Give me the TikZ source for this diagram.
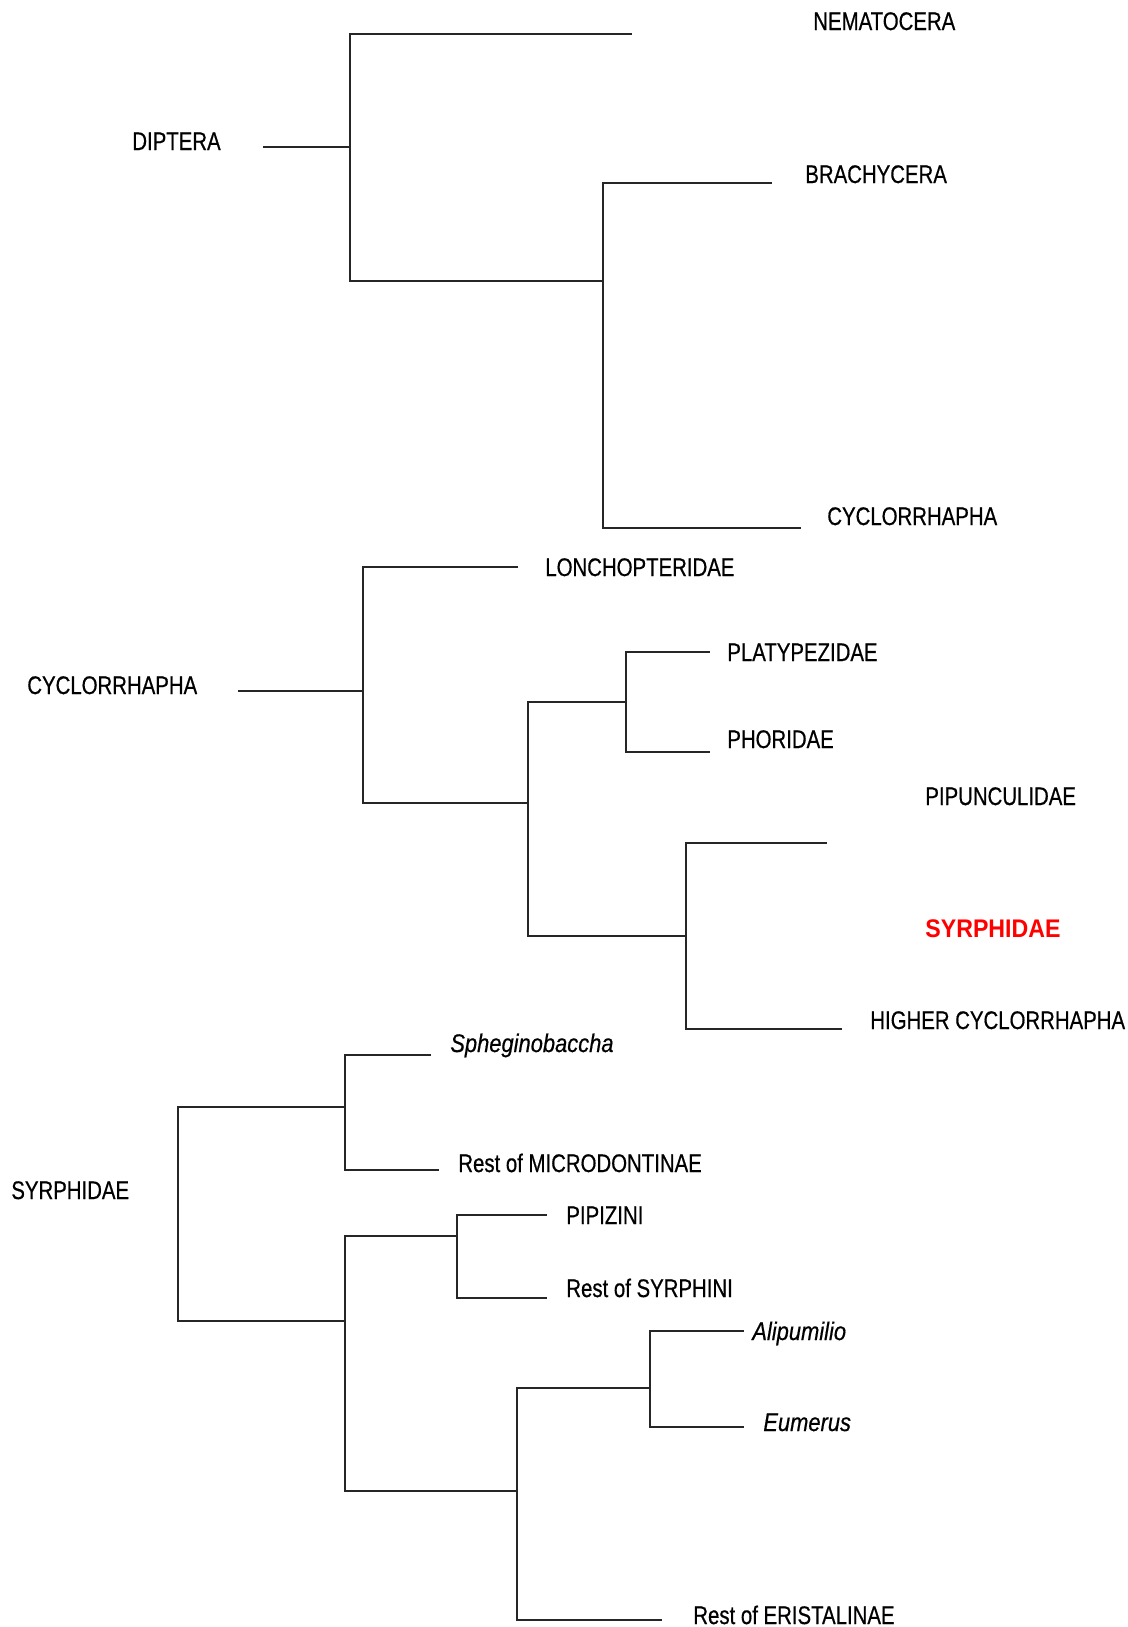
\documentclass[tikz,border=0pt]{standalone}
\usepackage{fontspec}
\setmainfont[FakeStretch=0.8, FakeBold=0.5, ItalicFeatures={FakeStretch=0.86}]{Liberation Sans}
\newfontfamily\redfont[FakeStretch=0.91]{Liberation Sans}
\definecolor{syrred}{RGB}{255,0,0}

\begin{document}
\begin{tikzpicture}[x=0.02cm, y=-0.02cm,
    taxon/.style={anchor=base west, inner sep=0pt, font=\fontsize{14.5}{17}\selectfont},
    genus/.style={taxon, font=\fontsize{14.5}{17}\selectfont\itshape},
    branch/.style={line width=0.9pt, black!85}]
  \useasboundingbox (0,0) rectangle (1127,1627);

  % Diptera
  \node[taxon] (dip) at (132,150) {DIPTERA};
  \node[taxon] (nema) at (813,30) {NEMATOCERA};
  \node[taxon] (brach) at (805,183) {BRACHYCERA};
  \node[taxon] (cyc) at (827,525) {CYCLORRHAPHA};
  \coordinate (dipStub) at (263,147);
  \coordinate (dipN) at (350,147);
  \coordinate (nemaEnd) at (632,34);
  \coordinate (brachN) at (603,281);
  \coordinate (brachEnd) at (772,183);
  \coordinate (cycEnd) at (801,528);
  \draw[branch] (dipStub) -- (dipN);
  \draw[branch] (nemaEnd) -| (dipN) |- (brachN);
  \draw[branch] (brachEnd) -| (brachN) |- (cycEnd);

  % Cyclorrhapha
  \node[taxon] (cycRoot) at (27,694) {CYCLORRHAPHA};
  \node[taxon] (lonch) at (545,576) {LONCHOPTERIDAE};
  \node[taxon] (platy) at (727,661) {PLATYPEZIDAE};
  \node[taxon] (phor) at (727,748) {PHORIDAE};
  \node[taxon] (pipun) at (925,805) {PIPUNCULIDAE};
  \node[taxon, text=syrred, font=\fontsize{14.5}{17}\redfont\bfseries] (syrph) at (925,937) {SYRPHIDAE};
  \node[taxon] (higher) at (870,1029) {HIGHER CYCLORRHAPHA};
  \coordinate (cycStub) at (238,691);
  \coordinate (cycN) at (363,691);
  \coordinate (lonchEnd) at (518,567);
  \coordinate (schizN) at (528,803);
  \coordinate (platyN) at (626,702);
  \coordinate (platyEnd) at (710,652);
  \coordinate (phorEnd) at (710,752);
  \coordinate (higherN) at (686,936);
  \coordinate (pipunEnd) at (827,843);
  \coordinate (higherEnd) at (842,1029);
  \draw[branch] (cycStub) -- (cycN);
  \draw[branch] (lonchEnd) -| (cycN) |- (schizN);
  \draw[branch] (platyN) -| (schizN) |- (higherN);
  \draw[branch] (platyEnd) -| (platyN) |- (phorEnd);
  \draw[branch] (pipunEnd) -| (higherN) |- (higherEnd);

  % Syrphidae
  \node[taxon] (syrRoot) at (11,1199) {SYRPHIDAE};
  \node[genus] (sphe) at (450,1052) {Spheginobaccha};
  \node[taxon] (micro) at (458,1172) {Rest of MICRODONTINAE};
  \node[taxon] (pipiz) at (566,1224) {PIPIZINI};
  \node[taxon] (syrphini) at (566,1297) {Rest of SYRPHINI};
  \node[genus] (alip) at (752,1340) {Alipumilio};
  \node[genus] (eum) at (763,1431) {Eumerus};
  \node[taxon] (erist) at (693,1624) {Rest of ERISTALINAE};
  \coordinate (syrN) at (178,1214);
  \coordinate (microN) at (345,1107);
  \coordinate (spheEnd) at (431,1055);
  \coordinate (microEnd) at (439,1170);
  \coordinate (tribeN) at (345,1321);
  \coordinate (pipizN) at (457,1236);
  \coordinate (pipizEnd) at (547,1215);
  \coordinate (syrphiniEnd) at (547,1298);
  \coordinate (eristN) at (517,1491);
  \coordinate (alipN) at (650,1388);
  \coordinate (alipEnd) at (744,1331);
  \coordinate (eumEnd) at (744,1427);
  \coordinate (eristEnd) at (662,1620);
  \draw[branch] (microN) -| (syrN) |- (tribeN);
  \draw[branch] (spheEnd) -| (microN) |- (microEnd);
  \draw[branch] (pipizN) -| (tribeN) |- (eristN);
  \draw[branch] (pipizEnd) -| (pipizN) |- (syrphiniEnd);
  \draw[branch] (alipN) -| (eristN) |- (eristEnd);
  \draw[branch] (alipEnd) -| (alipN) |- (eumEnd);
\end{tikzpicture}
\end{document}
